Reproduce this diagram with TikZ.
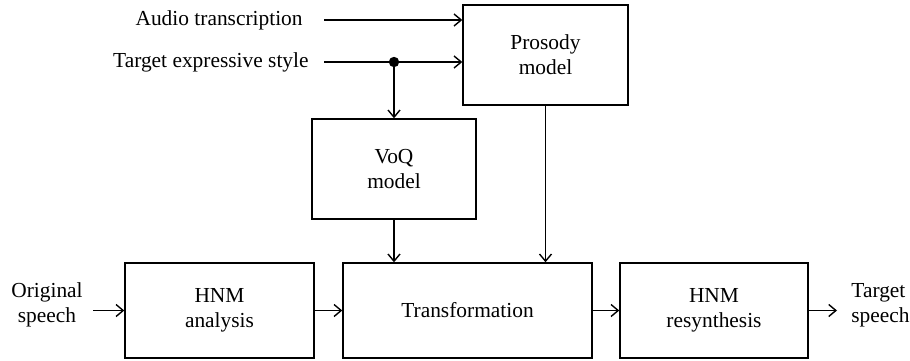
\documentclass[tikz,border=0pt]{standalone}
\usepackage{fontspec}
\setmainfont{Liberation Serif}
\usetikzlibrary{arrows.meta,calc}

\tikzset{
	block/.style={draw, line width=0.7pt, align=center, inner sep=0pt},
	lbl/.style={inner sep=0pt, align=center},
	flow/.style={-{Straight Barb[length=3.6pt,width=6pt]}, line width=0.7pt}
}

\begin{document}
\begin{tikzpicture}[x=0.5pt, y=-0.5pt, font=\fontsize{10.7}{12.5}\selectfont]
	
	\useasboundingbox (0,0) rectangle (910,360);
	
	% Blocks
	\node[block, minimum width=82.5pt, minimum height=50pt] (prosody) at (545.5,55) {Prosody\\model};
	\node[block, minimum width=82pt, minimum height=50pt] (voq) at (394,169) {VoQ\\model};
	\node[block, minimum width=94.5pt, minimum height=47.5pt] (hnma) at (219.5,310.5) {HNM\\analysis};
	\node[block, minimum width=124.5pt, minimum height=47.5pt] (trans) at (467.5,310.5) {Transformation};
	\node[block, minimum width=94pt, minimum height=47.5pt] (resyn) at (714,310.5) {HNM\\resynthesis};
	
	% Inputs and outputs
	\node[lbl, anchor=east] (audio) at (303,20) {Audio transcription};
	\node[lbl, anchor=east] (style) at (309,62) {Target expressive style};
	\node[lbl] (orig) at (47,305) {Original\\speech};
	\node[lbl, anchor=west, align=left] (target) at (851,305) {Target\\speech};
	\coordinate (split) at (394,62);
	
	% Arrows at the top
	\draw[flow] ([xshift=10.5pt]audio.east) -- (audio.east -| prosody.west);
	\draw[line width=0.7pt] ([xshift=7.5pt]style.east) -- (split);
	\draw[flow] (split) -- (split -| prosody.west);
	\draw[flow] (split) -- (voq.north);
	\fill (split) circle (2.6pt);
	
	% Arrows down into the transformation
	\draw[flow] (voq.south) -- (voq.south |- trans.north);
	\draw[flow] (prosody.south) -- (prosody.south |- trans.north);
	
	% Main chain
	\draw[flow] ([xshift=5pt]orig.east |- hnma.west) -- (hnma.west);
	\draw[flow] (hnma.east) -- (trans.west);
	\draw[flow] (trans.east) -- (resyn.west);
	\draw[flow] (resyn.east) -- ([xshift=-7pt]resyn.east -| target.west);
	
\end{tikzpicture}
\end{document}
